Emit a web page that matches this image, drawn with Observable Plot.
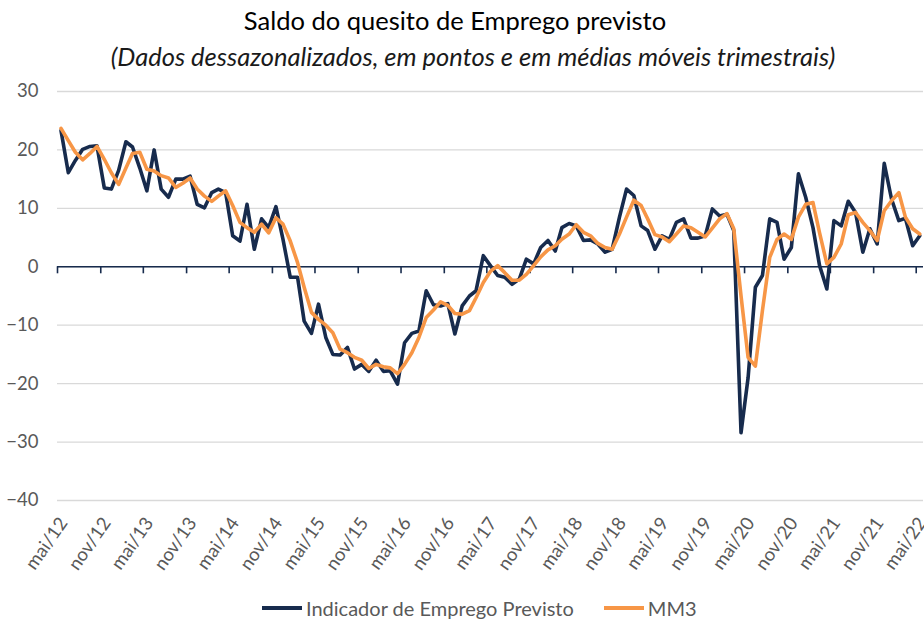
<!DOCTYPE html>
<html><head><meta charset="utf-8">
<script src="https://cdn.jsdelivr.net/npm/d3@7"></script>
<script src="https://cdn.jsdelivr.net/npm/@observablehq/plot@0.6"></script>
<style>
body{margin:0;background:#fff;font-family:Lato,sans-serif;}
#wrap{position:relative;width:924px;height:620px;overflow:hidden;background:#fff}
#title{position:absolute;top:5px;left:-7px;width:924px;text-align:center;font-size:25.5px;color:#000;white-space:nowrap}
#subtitle{position:absolute;top:41px;left:11px;width:924px;text-align:center;font-size:25.5px;font-style:italic;color:#1a1a1a;white-space:nowrap}
#chart{position:absolute;top:78px;left:0}
#legend{position:absolute;top:596px;left:262px;display:flex;align-items:center;font-size:20px;color:#595959;white-space:nowrap}
.sw{display:inline-block;width:40px;height:4px;margin-right:4px}
.item{display:flex;align-items:center}
</style>
</head><body>
<div id="wrap">
<div id="title">Saldo do quesito de Emprego previsto</div>
<div id="subtitle">(Dados dessazonalizados, em pontos e em médias móveis trimestrais)</div>
<div id="chart"></div>
<div id="legend"></div>
</div>
<script>
const seriesNames = ["Indicador de Emprego Previsto", "MM3"];
const seriesColors = ["#172b4d", "#f79646"];
const startYear = 2012, startMonth = 4; // mai/12
const indicador = [
 23.3,16.1,18.2,20.1,20.6,20.7,13.5,13.3,16.5,21.4,
 20.5,16.9,13.0,20.0,13.3,11.9,15.0,15.0,15.5,10.7,
 10.1,12.7,13.3,12.7,5.3,4.4,10.7,3.0,8.2,6.7,
 10.3,4.7,-1.8,-1.8,-9.3,-11.4,-6.4,-12.1,-15.0,-15.1,
 -13.8,-17.5,-16.7,-17.9,-16.0,-17.9,-17.8,-20.1,-13.0,-11.4,
 -11.0,-4.1,-6.5,-6.7,-6.3,-11.5,-6.7,-5.0,-4.1,1.9,
 0.2,-1.5,-1.8,-3.0,-2.1,1.3,0.5,3.3,4.5,2.7,
 6.7,7.4,7.0,4.5,4.6,3.9,2.5,3.0,8.5,13.3,
 12.2,7.0,6.2,3.0,5.3,4.7,7.6,8.2,4.9,4.9,
 5.3,9.9,8.7,9.0,6.2,-28.4,-19.0,-3.5,-1.5,8.2,
 7.6,1.3,3.3,15.9,11.9,6.7,0.2,-3.8,7.9,7.0,
 11.2,9.3,2.5,6.5,3.9,17.7,11.6,7.9,8.3,3.6,
 5.3];
const mm3 = [
 23.7,21.6,19.6,18.3,19.4,20.6,18.4,16.1,14.1,16.9,
 19.4,19.6,16.7,16.4,15.6,15.2,13.6,14.3,15.2,13.3,
 12.1,11.2,12.1,13.0,10.5,7.6,6.7,5.9,7.3,5.8,
 8.4,7.3,4.4,0.7,-3.5,-7.8,-9.0,-10.0,-11.3,-14.1,
 -14.7,-15.5,-16.0,-17.4,-16.7,-17.1,-17.3,-18.3,-16.7,-14.7,
 -12.1,-8.7,-7.4,-6.0,-6.6,-8.0,-8.1,-7.5,-5.3,-2.7,
 -0.8,0.2,-1.0,-2.3,-2.3,-1.3,0.2,1.7,2.9,3.6,
 4.7,5.6,7.2,5.9,5.3,4.0,3.3,3.0,5.6,8.5,
 11.4,10.5,8.2,5.5,5.1,4.3,5.6,7.0,6.7,5.9,
 5.1,6.6,8.2,9.1,6.5,-5.0,-15.5,-17.0,-7.5,1.6,
 4.7,5.6,4.7,8.5,10.7,11.0,5.8,0.5,1.6,3.9,
 8.9,9.3,7.6,6.2,4.5,9.6,11.3,12.7,8.5,6.5,
 5.6];
const tickLabels = ["mai/12","nov/12","mai/13","nov/13","mai/14","nov/14","mai/15","nov/15","mai/16","nov/16","mai/17","nov/17","mai/18","nov/18","mai/19","nov/19","mai/20","nov/20","mai/21","nov/21","mai/22"];
const yTicks = [-40,-30,-20,-10,0,10,20,30];

const dates = indicador.map((_, i) => new Date(Date.UTC(startYear, startMonth + i, 16)));
const tickDates = tickLabels.map((_, i) => new Date(Date.UTC(startYear, startMonth + 6 * i, 1)));
const rows = [];
indicador.forEach((v, i) => rows.push({date: dates[i], value: v, s: seriesNames[0]}));
mm3.forEach((v, i) => rows.push({date: dates[i], value: v, s: seriesNames[1]}));
const navy = seriesColors[0];

const chart = Plot.plot({
  width: 924, height: 512,
  marginLeft: 57, marginRight: 1, marginTop: 13, marginBottom: 90,
  style: {fontFamily: "Lato, sans-serif", fontSize: "18px", color: "#595959", background: "#fff"},
  x: {type: "utc", domain: [new Date(Date.UTC(2012,4,1)), new Date(Date.UTC(2022,5,1))]},
  y: {domain: [-40, 30]},
  marks: [
    Plot.gridY(yTicks, {stroke: "#d9d9d9", strokeOpacity: 1, strokeWidth: 1.3}),
    Plot.axisY(yTicks, {tickSize: 0, tickPadding: 19, label: null, fontSize: 18.5}),
    Plot.axisX(tickDates, {tickSize: 0, tickPadding: 19, tickRotate: -55, label: null, fontSize: 18.5, dx: 6,
      tickFormat: d => tickLabels[tickDates.findIndex(t => +t === +d)]}),
    Plot.ruleY([0], {stroke: navy, strokeWidth: 1.6}),
    Plot.ruleX(tickDates, {x: d => d, y1: 0, y2: -1.2, stroke: navy, strokeWidth: 1.6}),
    Plot.lineY(rows.filter(r => r.s === seriesNames[0]), {x: "date", y: "value", stroke: seriesColors[0], strokeWidth: 3.6, strokeLinejoin: "round"}),
    Plot.lineY(rows.filter(r => r.s === seriesNames[1]), {x: "date", y: "value", stroke: seriesColors[1], strokeWidth: 3.6, strokeLinejoin: "round"})
  ]
});
document.getElementById("chart").appendChild(chart);

const leg = document.getElementById("legend");
seriesNames.forEach((n, i) => {
  const it = document.createElement("div");
  it.className = "item";
  if (i > 0) it.style.marginLeft = "30px";
  const sw = document.createElement("span");
  sw.className = "sw"; sw.style.background = seriesColors[i];
  const tx = document.createElement("span"); tx.textContent = n;
  it.appendChild(sw); it.appendChild(tx); leg.appendChild(it);
});
</script>
</body></html>
